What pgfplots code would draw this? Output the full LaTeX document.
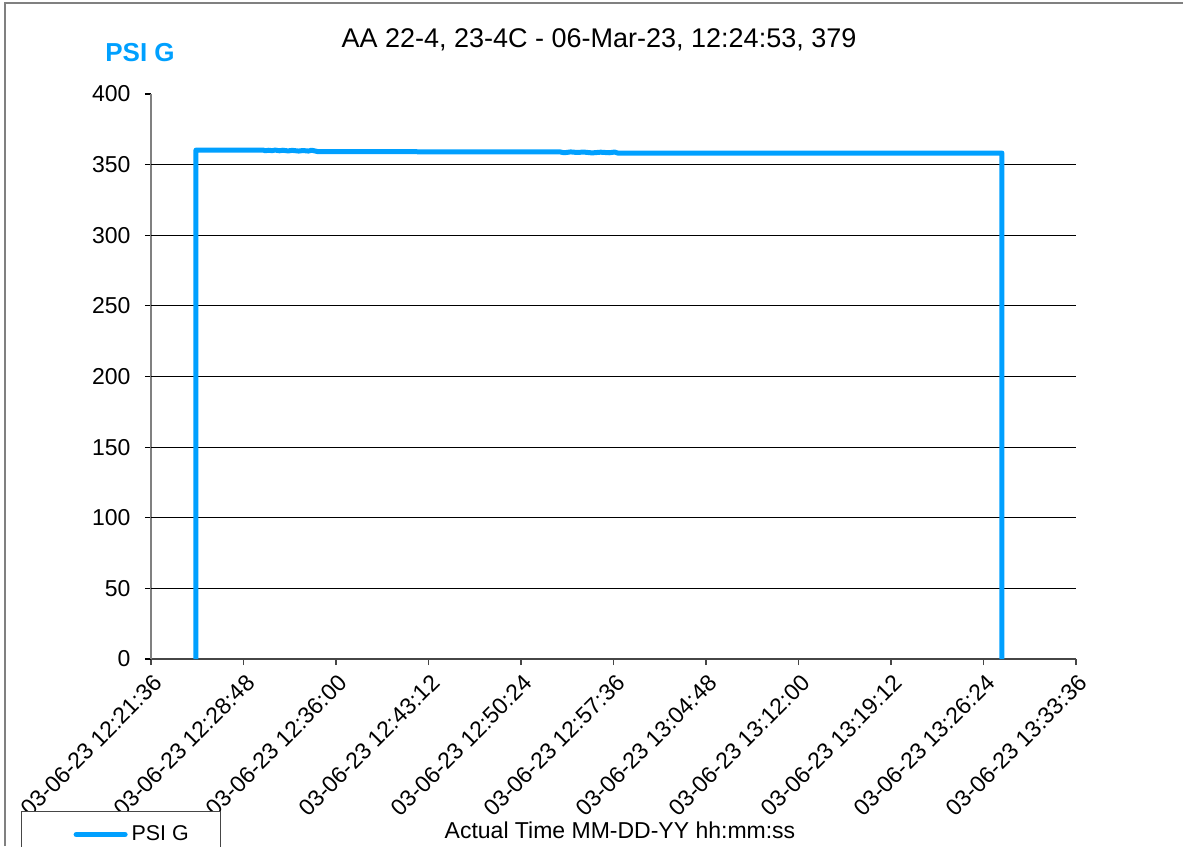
\documentclass[border=0pt]{standalone}
\usepackage{pgfplots}
\pgfplotsset{compat=1.18}
\usepackage{fontspec}
\setmainfont{Liberation Sans}
\definecolor{psiblue}{RGB}{0,160,255}
\definecolor{frame}{RGB}{70,70,70}
\definecolor{yline}{RGB}{128,128,128}
\begin{document}
\begin{tikzpicture}
% page = 1183x846 px of the reference, 1px = 0.5pt, origin at the axis corner
\useasboundingbox (-75.5pt,-93.5pt) rectangle (516pt,329.5pt);
\draw[yline, line width=0.7pt] (-73pt,-93.5pt) -- (-73pt,328pt) -- (516pt,328pt);
\node[font=\fontsize{13.5}{16}\selectfont] at (224pt,309.5pt) {AA 22-4, 23-4C - 06-Mar-23, 12:24:53, 379};
\node[font=\bfseries\fontsize{13}{15}\selectfont, text=psiblue] at (-5.5pt,303pt) {PSI G};
\begin{axis}[
  at={(0pt,0pt)}, anchor=south west,
  scale only axis, width=462.5pt, height=282.5pt,
  xmin=0, xmax=4320, ymin=0, ymax=400,
  axis x line*=bottom, axis y line*=left,
  x axis line style={-, frame, line width=0.6pt},
  y axis line style={-, yline, line width=0.6pt},
  tick align=outside, major tick length=3pt,
  xtick style={frame, line width=0.6pt},
  ytick style={black, line width=0.6pt},
  xtick={0,432,...,4320},
  xticklabels={03-06-23 12:21:36,03-06-23 12:28:48,03-06-23 12:36:00,03-06-23 12:43:12,
    03-06-23 12:50:24,03-06-23 12:57:36,03-06-23 13:04:48,03-06-23 13:12:00,
    03-06-23 13:19:12,03-06-23 13:26:24,03-06-23 13:33:36},
  xticklabel style={rotate=45, anchor=east, xshift=1pt, yshift=-7.5pt, font=\fontsize{11.5}{13}\selectfont},
  ytick={0,50,...,400},
  yticklabel style={xshift=-3.75pt, font=\fontsize{11.5}{13}\selectfont},
  /pgf/number format/assume math mode=true,
  extra y ticks={50,100,...,350},
  extra y tick labels={},
  extra y tick style={grid=major, major tick length=0pt, major grid style={black, line width=0.6pt}},
  xlabel={Actual Time MM-DD-YY hh:mm:ss},
  xlabel style={font=\fontsize{11.5}{13}\selectfont, at={(axis description cs:0.507,-0.303)}, anchor=center},
  legend style={at={(-0.1405,-0.269)}, anchor=north west, draw=frame, line width=0.6pt,
    font=\fontsize{10.7}{12}\selectfont, inner xsep=0pt, inner ysep=5pt},
  legend image code/.code={\path (-26pt,0pt); \draw[#1, line width=2.5pt, line cap=round] (0pt,0pt) -- (24.5pt,0pt);},
]
\addplot[psiblue, line width=2.5pt, line join=round] coordinates {
(210,0) (210,360.3) (523,360.3) (535,359.8) (548,360.2) (565,359.9) (580,360.3)
(600,359.8) (615,360.2) (640,359.7) (660,360.1) (690,359.6) (710,360.0) (735,359.6)
(750,360.2) (780,359.2) (1910,359.0) (1930,358.4) (1960,359.0) (1990,358.6)
(2020,358.9) (2060,358.3) (2100,358.8) (2140,358.4) (2165,358.9) (2180,358.2)
(3974,358.2) (3974,0)
};
\addlegendentry{PSI G\hspace*{14pt}}
\end{axis}
\end{tikzpicture}
\end{document}
